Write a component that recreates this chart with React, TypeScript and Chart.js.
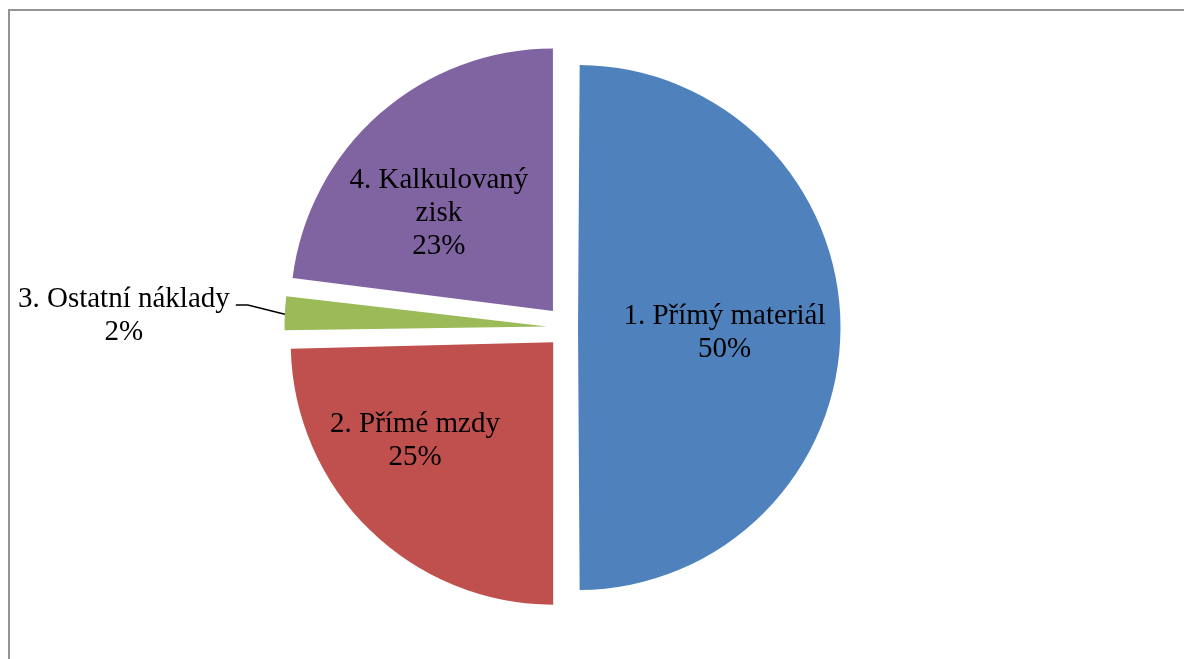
import React, { useEffect, useRef } from "react";
import { Chart, registerables } from "chart.js";

Chart.register(...registerables);

const categories = ["1. Přímý materiál", "2. Přímé mzdy", "3. Ostatní náklady", "4. Kalkulovaný zisk"];
const labelLines = [["1. Přímý materiál"], ["2. Přímé mzdy"], ["3. Ostatní náklady"], ["4. Kalkulovaný", "zisk"]];
const values = [50, 24.6, 2.4, 23.0];
const colors = ["#4F81BD", "#C0504D", "#9BBB59", "#8064A2"];
// Chart.js arc offset (a slice is moved by offset / 4)
const explode = [42, 82, 82, 88];

// label anchor relative to pie centre, in fractions of the outer radius
const labelAnchors = [
  [0.598, 0.048],
  [-0.581, 0.46],
  [-1.69, -0.015],
  [-0.49, -0.406],
];

const FONT = "29px 'Liberation Serif', 'Times New Roman', serif";
const LINE_H = 33;

const framePlugin = {
  id: "frame",
  beforeDraw(chart: any) {
    const ctx = chart.ctx;
    ctx.save();
    ctx.strokeStyle = "#949494";
    ctx.lineWidth = 2;
    ctx.beginPath();
    ctx.moveTo(9, chart.height + 5);
    ctx.lineTo(9, 10);
    ctx.lineTo(chart.width + 5, 10);
    ctx.stroke();
    ctx.restore();
  },
};

// Chart.js also grows an offset slice's radius by offset/4*(1-sin(circ)); cancel that so all slices share one radius
const radiusFixPlugin = {
  id: "radiusFix",
  beforeDatasetsDraw(chart: any) {
    const meta = chart.getDatasetMeta(0);
    meta.data.forEach((arc: any, i: number) => {
      const fix = 1 - Math.sin(Math.min(Math.PI, arc.circumference || 0));
      arc._origR = arc.outerRadius;
      arc.outerRadius = arc.outerRadius - (explode[i] / 4) * fix;
    });
  },
  afterDatasetsDraw(chart: any) {
    const meta = chart.getDatasetMeta(0);
    meta.data.forEach((arc: any) => {
      if (arc._origR !== undefined) arc.outerRadius = arc._origR;
    });
  },
};

const labelPlugin = {
  id: "pieLabels",
  afterDatasetsDraw(chart: any) {
    const ctx = chart.ctx;
    const meta = chart.getDatasetMeta(0);
    const total = values.reduce((a, b) => a + b, 0);
    ctx.save();
    ctx.font = FONT;
    ctx.fillStyle = "#000";
    ctx.textAlign = "center";
    ctx.textBaseline = "alphabetic";
    meta.data.forEach((arc: any, i: number) => {
      const { x, y, outerRadius, startAngle, endAngle } = arc.getProps(
        ["x", "y", "outerRadius", "startAngle", "endAngle"],
        true
      );
      const lines = [...labelLines[i], Math.round((values[i] / total) * 100) + "%"];
      const ax = x + labelAnchors[i][0] * outerRadius;
      const ay = y + labelAnchors[i][1] * outerRadius;
      const firstBase = ay - ((lines.length - 1) * LINE_H) / 2;
      lines.forEach((t, k) => ctx.fillText(t, ax, firstBase + k * LINE_H));
      if (i === 2) {
        // leader line to the small slice
        const w = ctx.measureText(lines[0]).width;
        const sx = ax + w / 2 + 6;
        const sy = firstBase - 2;
        const mid = (startAngle + endAngle) / 2;
        const shift = explode[i] / 4;
        const ex = x + Math.cos(mid) * (shift + outerRadius);
        const ey = y + Math.sin(mid) * (shift + outerRadius) + 1;
        ctx.strokeStyle = "#000";
        ctx.lineWidth = 1.5;
        ctx.beginPath();
        ctx.moveTo(sx, sy);
        ctx.lineTo(sx + 12, sy);
        ctx.lineTo(ex, ey);
        ctx.stroke();
      }
    });
    ctx.restore();
  },
};

export default function App() {
  const ref = useRef<HTMLCanvasElement>(null);
  useEffect(() => {
    if (!ref.current) return;
    const chart = new Chart(ref.current, {
      type: "pie",
      data: {
        labels: categories,
        datasets: [
          {
            data: values,
            backgroundColor: colors,
            borderWidth: 0,
            offset: explode,
          },
        ],
      },
      options: {
        animation: false,
        responsive: false,
        radius: 262.5,
        layout: { padding: { left: 0, right: 49, top: 0, bottom: 4 } },
        plugins: { legend: { display: false }, tooltip: { enabled: false } },
      },
      plugins: [framePlugin, radiusFixPlugin, labelPlugin],
    });
    return () => chart.destroy();
  }, []);
  return (
    <div style={{ position: "fixed", left: 0, top: 0, width: 1184, height: 659, background: "#fff" }}>
      <canvas ref={ref} width={1184} height={659} style={{ display: "block" }} />
    </div>
  );
}
